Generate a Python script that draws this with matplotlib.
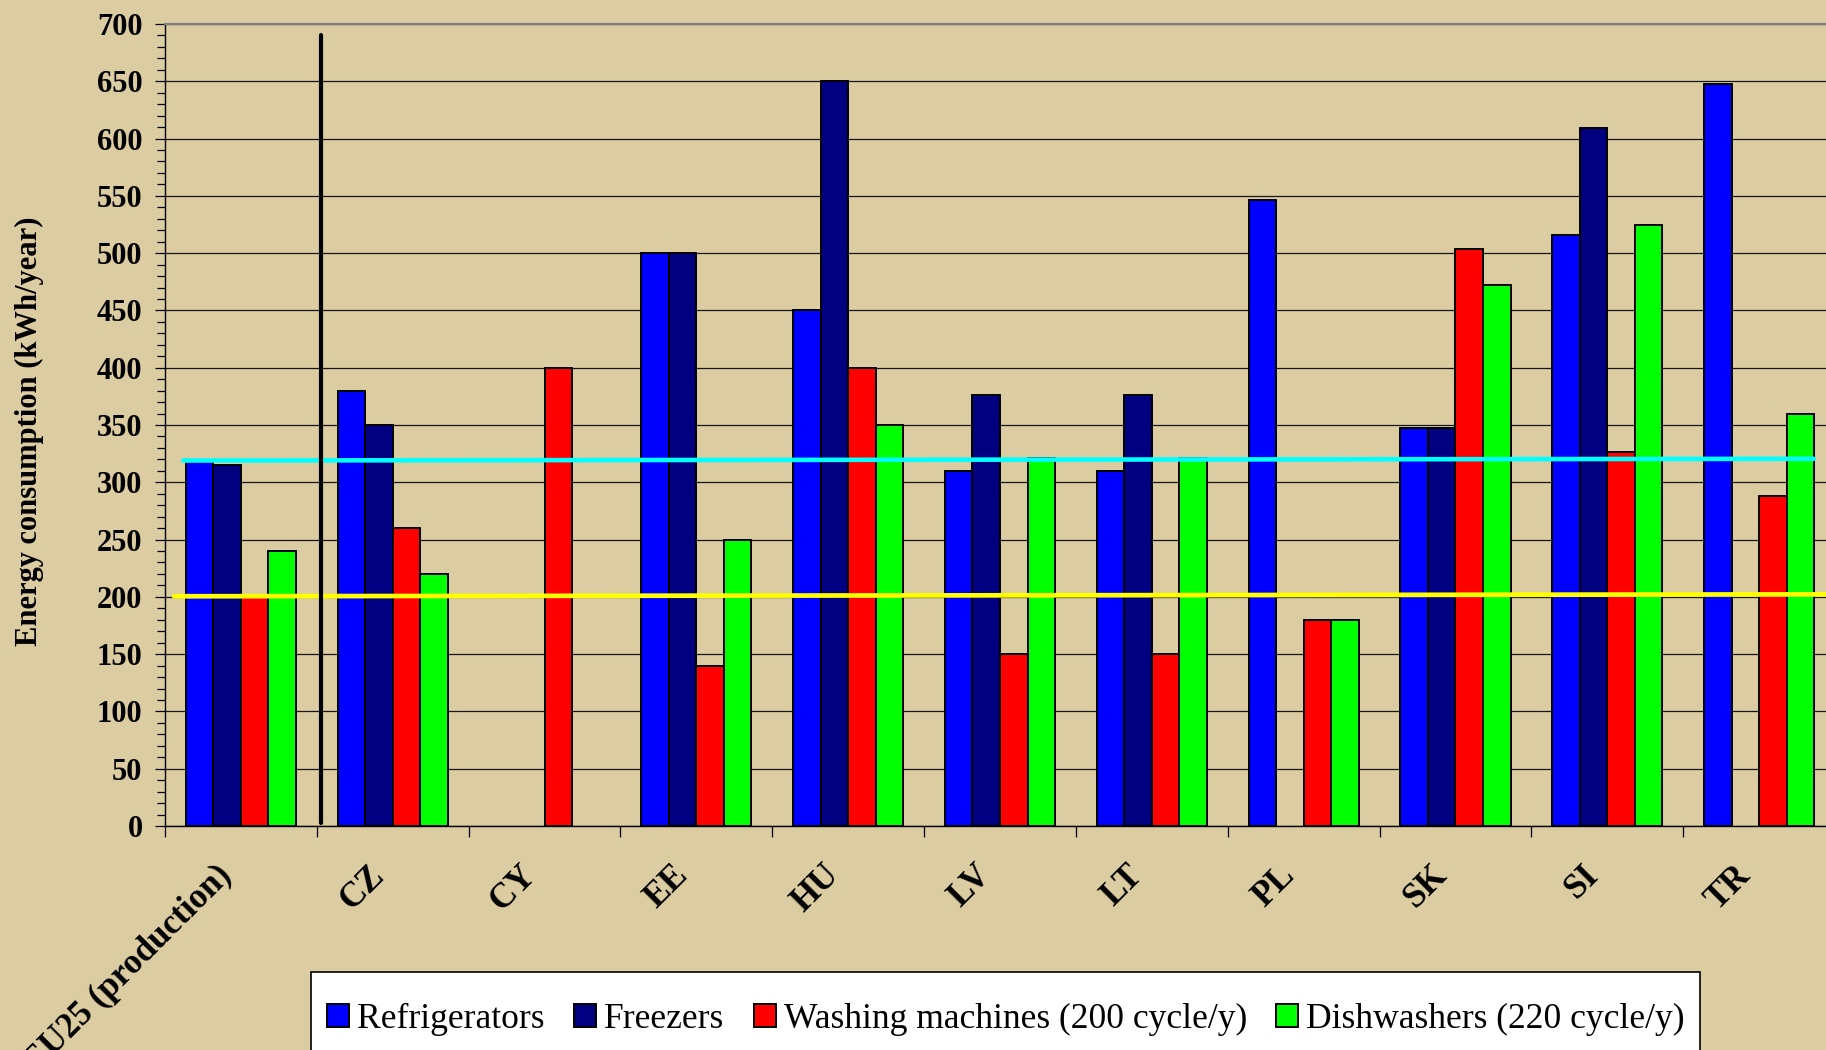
import numpy as np
import matplotlib as mpl
mpl.use("Agg")
import matplotlib.pyplot as plt
from matplotlib.patches import Rectangle
from matplotlib.ticker import MultipleLocator

nan = np.nan

categories = ["EU25 (production)", "CZ", "CY", "EE", "HU", "LV", "LT",
              "PL", "SK", "SI", "TR"]
refrigerators = [318, 380, nan, 500, 450, 310, 310, 546, 347, 516, 648]
freezers      = [315, 350, nan, 500, 650, 376, 376, nan, 347, 609, nan]
washing       = [200, 260, 400, 140, 400, 150, 150, 180, 504, 326, 288]
dishwashers   = [240, 220, nan, 250, 350, 321, 321, 180, 472, 525, 360]

series_labels = ["Refrigerators", "Freezers",
                 "Washing machines (200 cycle/y)", "Dishwashers (220 cycle/y)"]
series_colors = ["#0000FF", "#000080", "#FF0000", "#00FF00"]

# reference lines (x in category units, y in kWh/year)
cyan_x, cyan_y = [-0.38, 10.36], [319, 320.5]
yellow_x, yellow_y = [-0.44, 10.6], [200.5, 202.2]
divider_x, divider_y = [0.526, 0.526], [3, 690]

BG = "#DBCCA1"
plt.rcParams["font.family"] = ["Liberation Serif", "DejaVu Serif"]

fig = plt.figure(figsize=(18.26, 10.5), dpi=100, facecolor=BG)
ax = fig.add_axes([165 / 1826, 224 / 1050, 1670 / 1826, 802 / 1050])
ax.set_facecolor(BG)

x = np.arange(len(categories))
w = 0.1815
data = [refrigerators, freezers, washing, dishwashers]
for k, (vals, col, lab) in enumerate(zip(data, series_colors, series_labels)):
    ax.bar(x + (k - 1.5) * w, vals, width=w, color=col, edgecolor="black",
           linewidth=1.4, label=lab, zorder=2)

ax.plot(cyan_x, cyan_y, color="#00FFFF", lw=3.3, zorder=3, solid_capstyle="round")
ax.plot(yellow_x, yellow_y, color="#FFFF00", lw=3.4, zorder=3, solid_capstyle="round",
        clip_on=False)
ax.plot(divider_x, divider_y, color="black", lw=3.0, zorder=4, solid_capstyle="round")

ax.set_xlim(-0.5, 10.5)
ax.set_ylim(0, 700)

# y axis
ax.yaxis.set_major_locator(MultipleLocator(50))
ax.yaxis.set_minor_locator(MultipleLocator(10))
ax.tick_params(axis="y", which="major", length=7.2, width=0.9, pad=9,
               labelsize=22, direction="out")
ax.tick_params(axis="y", which="minor", length=5.5, width=0.9, direction="out")
for t in ax.get_yticklabels():
    t.set_fontweight("bold")
ax.yaxis.grid(True, which="major", color="#151515", lw=0.9)
ax.set_axisbelow(True)

# x axis: boundary ticks visible, labels rotated at category centres
ax.set_xticks(x - 0.09)
ax.set_xticklabels(categories, rotation=45, ha="right", va="center",
                   rotation_mode="anchor", fontsize=25, fontweight="bold")
ax.set_xticks(np.arange(len(categories) + 1) - 0.5, minor=True)
ax.tick_params(axis="x", which="major", length=0, pad=32)
ax.tick_params(axis="x", which="minor", length=8, width=0.9, direction="out")

ax.spines["top"].set_color("#808080")
ax.spines["top"].set_linewidth(1.6)
ax.spines["right"].set_visible(False)
for s in ("left", "bottom"):
    ax.spines[s].set_color("black")
    ax.spines[s].set_linewidth(1.0)

ax.set_ylabel("Energy consumption (kWh/year)", fontsize=22, fontweight="bold",
              va="center")
ax.yaxis.set_label_coords(-0.0814, 0.492)

# legend box at the bottom
box = Rectangle((311 / 1826, -0.02), (1700 - 311) / 1826, 78 / 1050 + 0.02,
                transform=fig.transFigure, facecolor="white", edgecolor="black",
                lw=1.2, zorder=1)
fig.add_artist(box)
fig.legend(loc="center left", bbox_to_anchor=(327 / 1826, 1 - 1019 / 1050),
           ncol=4, frameon=False, fontsize=25.6, handlelength=0.62,
           handleheight=0.62, handletextpad=0.23, columnspacing=0.82,
           borderpad=0, borderaxespad=0)

fig.savefig("out.png", dpi=100, facecolor=BG)
